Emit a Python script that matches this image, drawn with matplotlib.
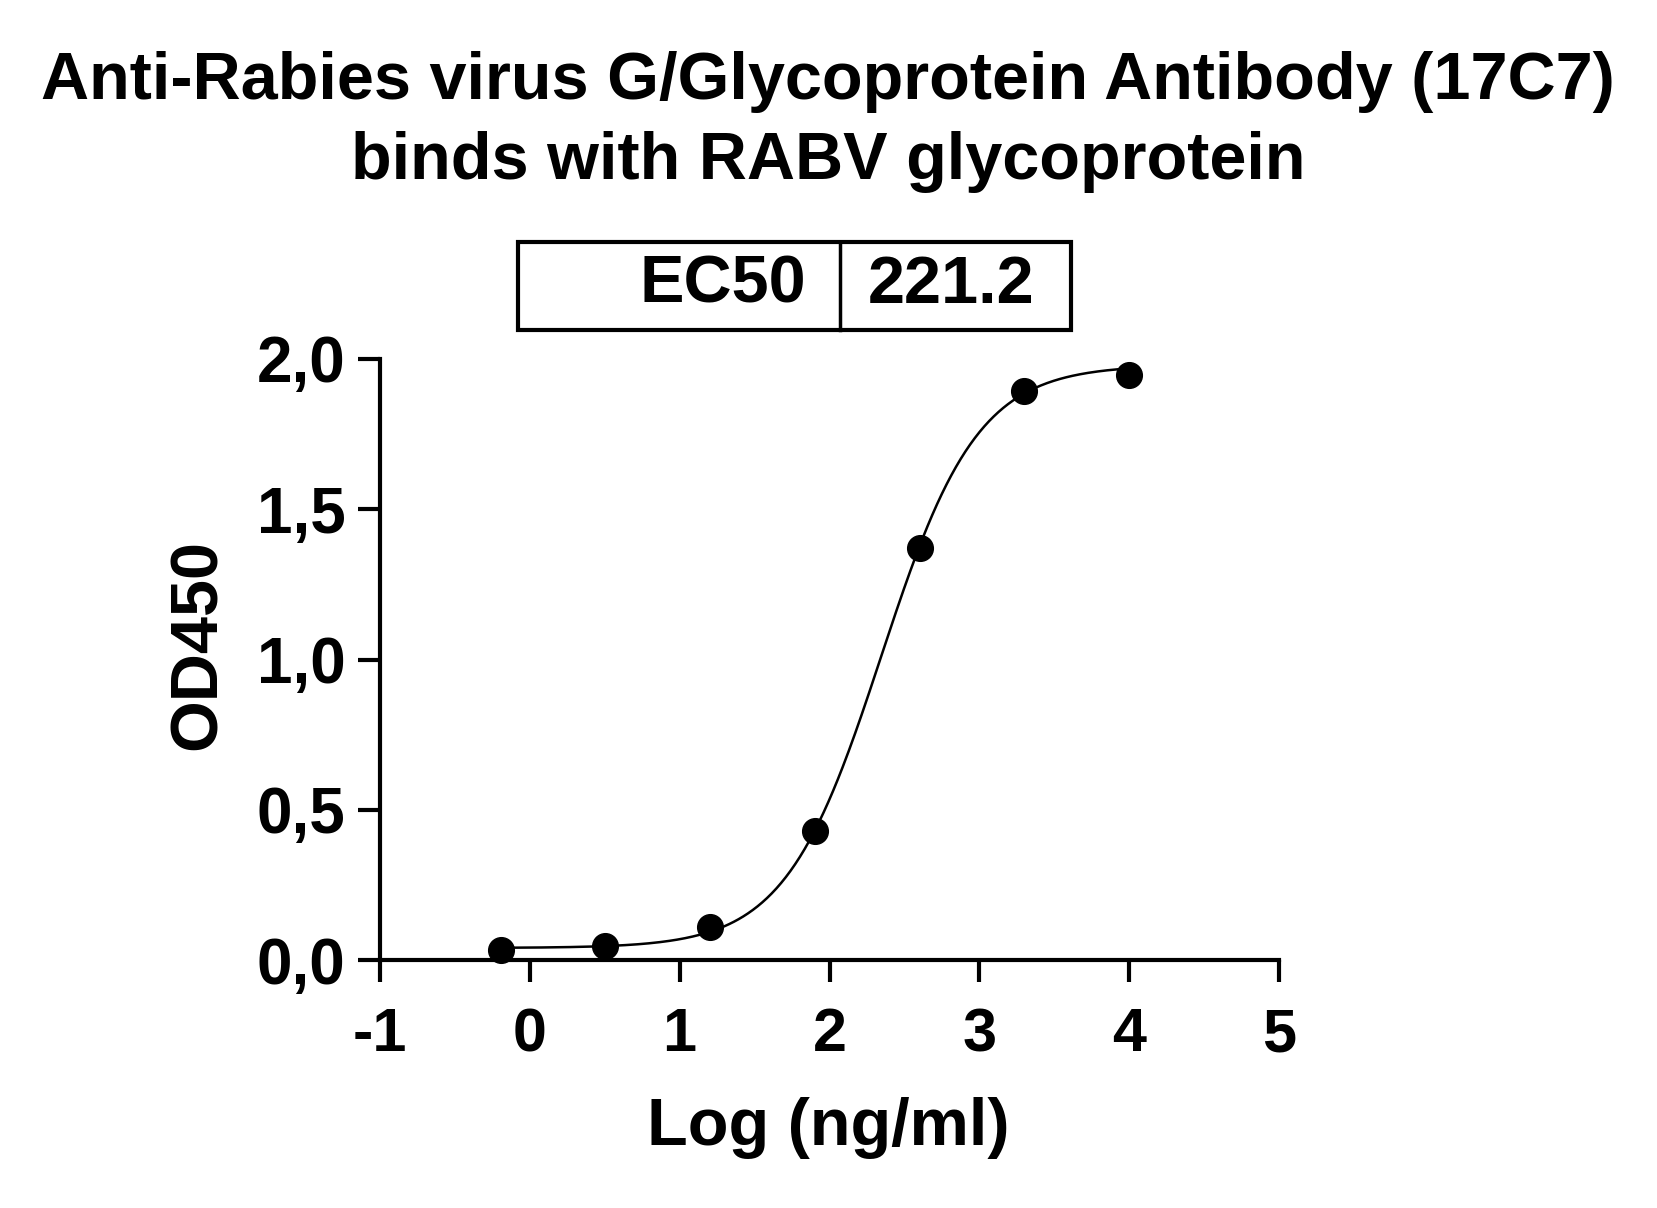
import numpy as np
import matplotlib
matplotlib.use('Agg')
import matplotlib.pyplot as plt
from matplotlib.patches import Rectangle

# data
log_conc = [-0.194, 0.505, 1.204, 1.903, 2.602, 3.301, 4.0]
od450 = [0.032, 0.046, 0.109, 0.43, 1.37, 1.894, 1.947]

# 4PL fit parameters
bottom = 0.04
top = 1.98
ec50 = 221.2
hill = 1.35

x_ticks = [-1, 0, 1, 2, 3, 4, 5]
y_ticks = [0.0, 0.5, 1.0, 1.5, 2.0]
y_ticklabels = ['0,0', '0,5', '1,0', '1,5', '2,0']

title_lines = ['Anti-Rabies virus G/Glycoprotein Antibody (17C7)',
               'binds with RABV glycoprotein']

plt.rcParams['font.family'] = ['Liberation Sans', 'DejaVu Sans']
plt.rcParams['font.weight'] = 'bold'

W, H = 1657, 1208
fig = plt.figure(figsize=(W / 100, H / 100), dpi=100)
ax = fig.add_axes([380 / W, 1 - 960 / H, 899 / W, 601 / H])


def four_pl(x):
    return bottom + (top - bottom) / (1 + 10 ** ((np.log10(ec50) - x) * hill))


xs = np.linspace(min(log_conc), max(log_conc), 400)
ax.plot(xs, four_pl(xs), color='black', lw=1.8, clip_on=False, zorder=3)
ax.plot(log_conc, od450, 'o', color='black', ms=18.5, clip_on=False, zorder=4)

ax.set_xlim(-1, 5)
ax.set_ylim(0, 2.0)
ax.set_xticks(x_ticks)
ax.set_xticklabels([str(t) for t in x_ticks], fontsize=44, fontweight='bold')
ax.set_yticks(y_ticks)
ax.set_yticklabels(y_ticklabels, fontsize=46, fontweight='bold')

for s in ['top', 'right']:
    ax.spines[s].set_visible(False)
for s in ['left', 'bottom']:
    ax.spines[s].set_linewidth(3)
ax.tick_params(axis='both', direction='out', length=16, width=3, color='black')
ax.tick_params(axis='x', pad=18)
ax.tick_params(axis='y', pad=9)

# titles and axis labels
fig.text(828 / W, 1 - 82 / H, title_lines[0], ha='center', va='center',
         fontsize=48, fontweight='bold')
fig.text(828 / W, 1 - 162 / H, title_lines[1], ha='center', va='center',
         fontsize=48, fontweight='bold')
fig.text(828 / W, 1 - 1128 / H, 'Log (ng/ml)', ha='center', va='center',
         fontsize=48, fontweight='bold')
fig.text(199 / W, 1 - 645 / H, 'OD450', ha='center', va='center', rotation=90,
         fontsize=48, fontweight='bold')

# EC50 table
bx0, bx1, bdiv = 518 / W, 1071 / W, 840 / W
by0, by1 = 1 - 330 / H, 1 - 242 / H
fig.patches.append(Rectangle((bx0, by0), bx1 - bx0, by1 - by0, transform=fig.transFigure,
                             fill=False, lw=3, edgecolor='black'))
fig.lines.append(plt.Line2D([bdiv, bdiv], [by0, by1], transform=fig.transFigure,
                            color='black', lw=2.5))
fig.text(806 / W, (by0 + by1) / 2, 'EC50', ha='right', va='center', fontsize=48, fontweight='bold')
fig.text(868 / W, (by0 + by1) / 2, f'{ec50}', ha='left', va='center', fontsize=48, fontweight='bold')

fig.savefig('out.png', dpi=100, facecolor='white')
